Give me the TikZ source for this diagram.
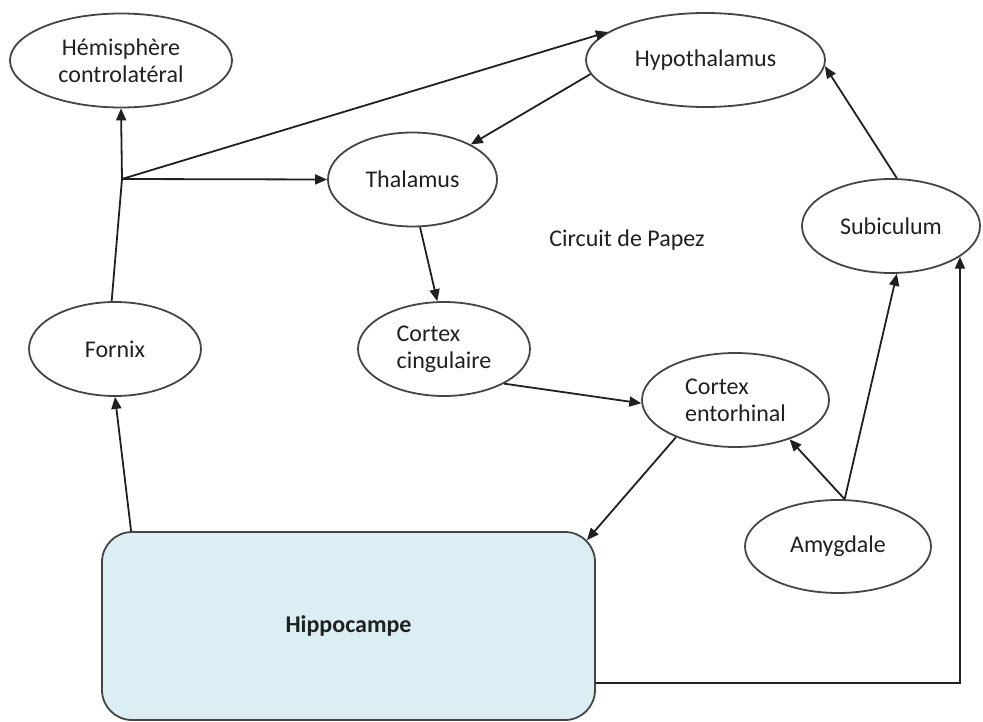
\documentclass[tikz,border=0pt]{standalone}
\usepackage{fontspec}
\setmainfont{Carlito}
\usetikzlibrary{shapes.geometric,arrows.meta}
\definecolor{myblack}{HTML}{202020}
\definecolor{mydarkgray}{HTML}{454545}
\definecolor{mypaleblue}{HTML}{DBEEF4}

\begin{document}
\begin{tikzpicture}[x=1pt, y=-1pt,
  organe/.style={ellipse, draw=mydarkgray, line width=1.8pt, text=myblack, minimum height=94pt, inner sep=0pt, font=\fontsize{24}{27}\selectfont},
  fleche/.style={myblack, line width=1.8pt, -{Triangle[length=12pt,width=10pt]}},
  trait/.style={myblack, line width=1.8pt}]

\useasboundingbox (0,0) rectangle (983,722);

% STRUCTURES
\node[organe, minimum width=222pt, align=center] (hemi) at (121,60.5) {Hémisphère\\controlatéral};
\node[organe, minimum width=239pt] (hypo) at (705.5,60) {Hypothalamus};
\node[organe, minimum width=169pt] (thal) at (412.5,179.5) {Thalamus};
\node[organe, minimum width=178pt] (subic) at (891,226) {Subiculum};
\node[organe, minimum width=172pt] (fornix) at (115,349) {Fornix};
\node[organe, minimum width=172pt, align=left] (cing) at (444,349) {Cortex\\cingulaire};
\node[organe, minimum width=187pt, align=left] (ento) at (735.5,400) {Cortex\\entorhinal};
\node[organe, minimum width=186pt, minimum height=93pt] (amyg) at (838,546.5) {Amygdale};

% HIPPOCAMPE
\node[draw=mydarkgray, fill=mypaleblue, rounded corners=30pt, line width=1.8pt, text=myblack, minimum width=493pt, minimum height=188pt, font=\bfseries\fontsize{24}{27}\selectfont] (hippo) at (348.5,626) {Hippocampe};

% TITRE
\node[text=myblack, font=\fontsize{24}{27}\selectfont] (titre) at (627,240) {Circuit de Papez};

% FIBRES
\coordinate (carrefour) at (122,179);
\draw[trait] (fornix.94) -- (carrefour);
\draw[fleche] (carrefour) -- (hemi.south);
\draw[fleche] (carrefour) -- (thal.west);
\draw[fleche] (carrefour) -- (hypo.164);
\draw[fleche] (hypo.187) -- (thal.31);
\draw[fleche] (thal.-81) -- (cing.98);
\draw[fleche] (cing.-30) -- (ento.182);
\draw[fleche] (ento.212) -- ([shift={(-9pt,-9pt)}]hippo.north east);
\draw[fleche] (amyg.82) -- (ento.-36);
\draw[fleche] (amyg.82) -- (subic.-83);
\draw[fleche] (subic.83) -- (hypo.-3);
\draw[fleche] ([yshift=-57pt]hippo.east) -| (subic.-24);
\draw[fleche] ([xshift=30pt]hippo.north west) -- (fornix.south);

\end{tikzpicture}
\end{document}
